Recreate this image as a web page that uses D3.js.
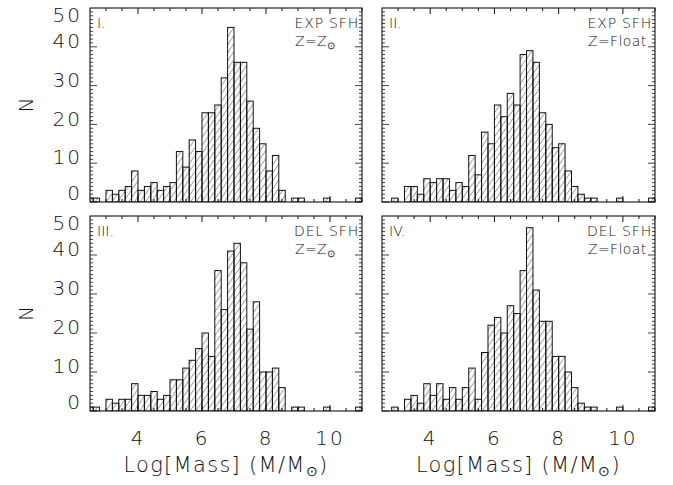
<!DOCTYPE html>
<html>
   <head>
      <meta charset="utf-8">
      <script type="text/javascript" src="https://cdn.jsdelivr.net/npm/d3@7"></script>
      <style>
         body { margin: 0; background: #fff; }
         text { font-family: "DejaVu Sans", sans-serif; font-weight: 200; fill: #111; }
      </style>
   </head>
   <body>
      <script type="text/javascript">
         // histogram bins: left edge of first bin and bin width in Log[Mass]
         var bin_start = 2.4;
         var bin_width = 0.2;

         var counts_exp_zsun  = [1,1,0, 3,2,3,4,8,3,4,5,3,4,5,13,9,16,13,23,23,25,32,45,36,36,26,19,15,8,12,3, 0,1,1,0,0,0,1,0,0,0,0,1];
         var counts_exp_float = [0,0,1, 0,4,4,2,6,5,6,6,3,5,4,12,7,18,15,25,22,28,25,38,39,36,23,20,14,15,8,4, 2,1,1,0,0,0,1,0,0,0,0,1];
         var counts_del_zsun  = [1,1,0, 3,2,3,3,7,4,4,5,3,4,8,8,11,13,16,20,14,36,26,41,43,38,21,28,10,10,11,6, 0,1,1,0,0,0,1,0,0,0,0,1];
         var counts_del_float = [0,0,1, 0,3,4,2,7,4,7,3,6,3,6,11,3,15,22,24,20,27,25,36,47,31,23,23,14,14,10,6, 2,1,1,0,0,0,1,0,0,0,0,1];

         var panel_numbers = ["I.", "II.", "III.", "IV."];
         var panel_sfh = ["EXP SFH", "EXP SFH", "DEL SFH", "DEL SFH"];
         var panel_z = ["sun", "Float", "sun", "Float"];

         var x_domain = [2.5, 11];
         var y_domain = [0, 50];
         var x_tick_labels = [4, 6, 8, 10];
         var y_tick_labels = [0, 10, 20, 30, 40, 50];

         var all_counts = [counts_exp_zsun, counts_exp_float, counts_del_zsun, counts_del_float];

         var svg = d3.select("body").append("svg")
            .attr("width", 673).attr("height", 485);

         svg.append("defs").append("pattern")
            .attr("id", "hatch")
            .attr("patternUnits", "userSpaceOnUse")
            .attr("width", 4.6).attr("height", 10)
            .attr("patternTransform", "rotate(35)")
            .append("line")
            .attr("x1", 0).attr("y1", 0).attr("x2", 0).attr("y2", 10)
            .attr("stroke", "#333").attr("stroke-width", 0.9);

         var cols = [[90, 362], [382, 655]];
         var rows = [[8, 202], [216, 411]];

         function draw_panel(k) {
            var xr = cols[k % 2], yr = rows[Math.floor(k / 2)];
            var x = d3.scaleLinear().domain(x_domain).range(xr);
            var y = d3.scaleLinear().domain(y_domain).range([yr[1], yr[0]]);
            var g = svg.append("g");

            g.append("clipPath").attr("id", "clip" + k)
               .append("rect")
               .attr("x", xr[0]).attr("y", yr[0])
               .attr("width", xr[1] - xr[0]).attr("height", yr[1] - yr[0]);

            var bins = all_counts[k].map(function(c, i) {
               return { x0: bin_start + i * bin_width, x1: bin_start + (i + 1) * bin_width, n: c };
            }).filter(function(d) { return d.n > 0; });

            g.append("g").attr("clip-path", "url(#clip" + k + ")")
               .selectAll("rect.bar")
               .data(bins)
               .enter().append("rect")
               .attr("class", "bar")
               .attr("x", function(d) { return x(d.x0); })
               .attr("y", function(d) { return y(d.n); })
               .attr("width", function(d) { return x(d.x1) - x(d.x0); })
               .attr("height", function(d) { return y(0) - y(d.n); })
               .attr("fill", "url(#hatch)")
               .attr("stroke", "#111").attr("stroke-width", 1);

            g.append("rect")
               .attr("x", xr[0]).attr("y", yr[0])
               .attr("width", xr[1] - xr[0]).attr("height", yr[1] - yr[0])
               .attr("fill", "none").attr("stroke", "#111").attr("stroke-width", 1.1);

            // ticks on all four sides
            var xminor = d3.range(3, 11.01, 0.5);
            xminor.forEach(function(v) {
               var len = (x_tick_labels.indexOf(v) != -1) ? 6 : 3;
               g.append("line").attr("x1", x(v)).attr("x2", x(v)).attr("y1", yr[1]).attr("y2", yr[1] - len).attr("stroke", "#111");
               g.append("line").attr("x1", x(v)).attr("x2", x(v)).attr("y1", yr[0]).attr("y2", yr[0] + len).attr("stroke", "#111");
            });
            d3.range(0, 50, 1).forEach(function(v) {
               var len = (v % 10 == 0) ? 7 : 3;
               g.append("line").attr("x1", xr[0]).attr("x2", xr[0] + len).attr("y1", y(v)).attr("y2", y(v)).attr("stroke", "#111").attr("stroke-width", 0.8);
               g.append("line").attr("x1", xr[1]).attr("x2", xr[1] - len).attr("y1", y(v)).attr("y2", y(v)).attr("stroke", "#111").attr("stroke-width", 0.8);
            });

            g.append("text").attr("x", xr[0] + 7).attr("y", yr[0] + 20)
               .style("font-size", "14px").text(panel_numbers[k]);
            g.append("text").attr("x", xr[1] - 3).attr("y", yr[0] + 20)
               .attr("text-anchor", "end").style("font-size", "14px").style("letter-spacing", "0.8px").text(panel_sfh[k]);
            var zt = g.append("text").attr("x", xr[1] - 67).attr("y", yr[0] + 38)
               .style("font-size", "14px").style("letter-spacing", "0.4px");
            if (panel_z[k] == "sun") {
               zt.text("Z=Z");
               zt.append("tspan").attr("dy", 3).style("font-size", "10px").text("\u2299");
            } else {
               zt.text("Z=" + panel_z[k]);
            }

            if (k % 2 == 0) {
               y_tick_labels.forEach(function(v) {
                  var ty = Math.max(yr[0] + 7, Math.min(yr[1] - 9, y(v) - 6));
                  g.append("text").attr("x", xr[0] - 8).attr("y", ty).attr("dy", "0.36em")
                     .attr("text-anchor", "end").style("font-size", "20px").style("letter-spacing", "2px").text(v);
               });
               var my = (yr[0] + yr[1]) / 2;
               g.append("text").attr("transform", "translate(33," + my + ") rotate(-90)")
                  .attr("text-anchor", "middle").style("font-size", "20px").text("N");
            }
            if (k >= 2) {
               x_tick_labels.forEach(function(v) {
                  g.append("text").attr("x", x(v)).attr("y", 445)
                     .attr("text-anchor", "middle").style("font-size", "20px").style("letter-spacing", "2px").text(v);
               });
               var t = g.append("text").attr("x", (xr[0] + xr[1]) / 2).attr("y", 472)
                  .attr("text-anchor", "middle").style("font-size", "21px").style("letter-spacing", "1.3px");
               t.append("tspan").text("Log[Mass] (M/M");
               t.append("tspan").attr("dy", 4).style("font-size", "14px").text("\u2299");
               t.append("tspan").attr("dy", -4).text(")");
            }
         }

         for (var k = 0; k < 4; k++) { draw_panel(k); }
      </script>
</body>
</html>
